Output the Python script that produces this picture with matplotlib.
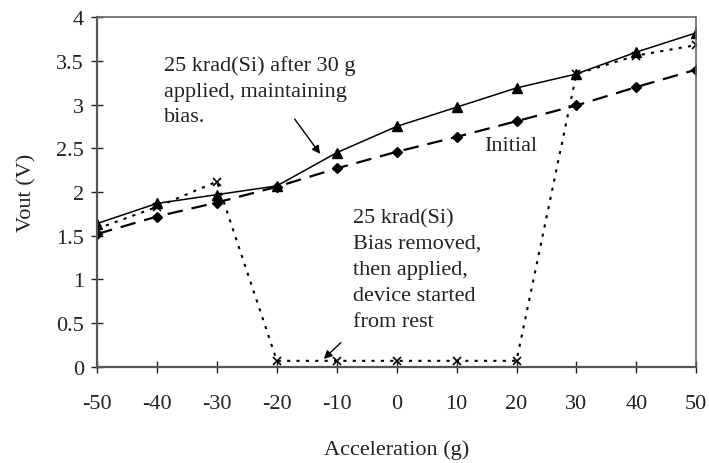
import matplotlib
matplotlib.use("Agg")
import matplotlib.pyplot as plt

plt.rcParams['font.family'] = ['Liberation Serif', 'DejaVu Serif']
plt.rcParams['axes.unicode_minus'] = False

accel = [-50, -40, -30, -20, -10, 0, 10, 20, 30, 40, 50]

# data
initial = [1.52, 1.72, 1.88, 2.06, 2.27, 2.46, 2.63, 2.81, 2.99, 3.20, 3.40]
after_30g = [1.64, 1.87, 1.97, 2.07, 2.45, 2.75, 2.97, 3.19, 3.35, 3.60, 3.82]
bias_removed = [1.58, 1.83, 2.12, 0.07, 0.07, 0.07, 0.07, 0.07, 3.35, 3.56, 3.68]

xticks = [-50, -40, -30, -20, -10, 0, 10, 20, 30, 40, 50]
yticks = [0, 0.5, 1, 1.5, 2, 2.5, 3, 3.5, 4]
ytick_labels = ["0", "0.5", "1", "1.5", "2", "2.5", "3", "3.5", "4"]

FS = 16

fig = plt.figure(figsize=(7.09, 4.64), dpi=100)
ax = fig.add_axes([0.137, 0.207, 0.845, 0.754])

ax.plot(accel, initial, color='black', linestyle=(0, (7, 4)), linewidth=1.6,
        marker='D', markersize=5)
ax.plot(accel, after_30g, color='black', linestyle='-', linewidth=1.1,
        marker='^', markersize=7)
ax.plot(accel, bias_removed, color='black', linestyle=(0, (1.5, 3)), linewidth=1.5,
        marker='x', markersize=6, markeredgewidth=1.2)

ax.set_xlim(-50, 50)
ax.set_ylim(0, 4)
ax.set_xticks(xticks)
ax.set_yticks(yticks)
ax.set_yticklabels(ytick_labels)
ax.tick_params(direction='inout', length=9, width=1, labelsize=FS,
               colors='#222222')
ax.tick_params(axis='x', pad=15)
ax.tick_params(axis='y', pad=5)

for side in ['left', 'bottom']:
    ax.spines[side].set_linewidth(1.6)
    ax.spines[side].set_color('#555555')
for side in ['top', 'right']:
    ax.spines[side].set_linewidth(1.2)
    ax.spines[side].set_color('#666666')

ax.set_xlabel('Acceleration (g)', fontsize=FS, labelpad=19, color='#222222')
ax.set_ylabel('Vout (V)', fontsize=FS, labelpad=14, color='#222222')

ax.text(-38.9, 3.56, '25 krad(Si) after 30 g\napplied, maintaining\nbias.',
        fontsize=FS, va='top', ha='left', linespacing=1.45, color='#222222')
ax.annotate('', xy=(-12.5, 2.41), xytext=(-17.3, 2.86),
            arrowprops=dict(arrowstyle='-|>', color='black', lw=1,
                            mutation_scale=12))

ax.text(14.6, 2.53, 'Initial', fontsize=FS, va='center', ha='left',
        color='#222222')

ax.text(-7.3, 1.82, '25 krad(Si)\nBias removed,\nthen applied,\ndevice started\nfrom rest',
        fontsize=FS, va='top', ha='left', linespacing=1.5, color='#222222')
ax.annotate('', xy=(-12.5, 0.07), xytext=(-9.0, 0.30),
            arrowprops=dict(arrowstyle='-|>', color='black', lw=1,
                            mutation_scale=12))

fig.savefig('out.png', dpi=100)
